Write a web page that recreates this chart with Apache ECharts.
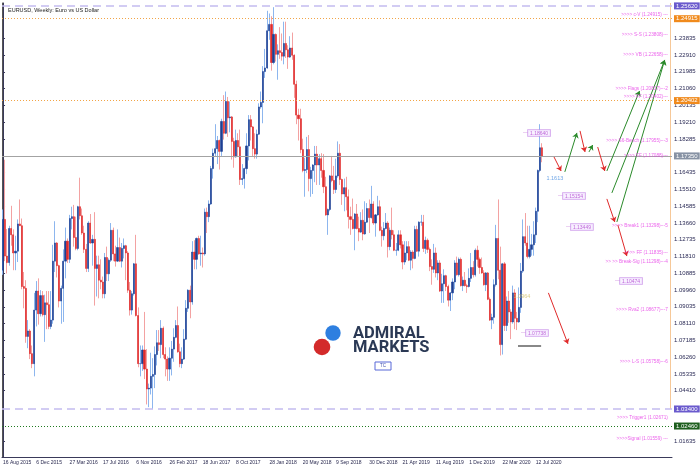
<!DOCTYPE html>
<html><head><meta charset="utf-8">
<script src="https://cdn.jsdelivr.net/npm/echarts@6/dist/echarts.min.js"></script>
<style>html,body{margin:0;padding:0;background:#fff}#c{width:700px;height:469px}</style>
</head><body><div id="c"></div>
<script>
// Weekly EURUSD candles, first week 16 Aug 2015
const open = [
1.1105,1.1385,1.1183,1.1147,1.1335,1.1300,1.1200,1.1210,1.1360,1.1350,1.1015,1.1005,1.0740,1.0770,1.0645,1.0590,1.0885,1.0990,1.0865,1.0965,
1.0860,1.0925,1.0915,1.0795,1.0830,1.1155,1.1255,1.1130,1.0935,1.1005,1.1155,1.1265,1.1165,1.1390,1.1400,1.1285,1.1225,1.1455,1.1405,1.1310,1.1220,1.1115,1.1365,1.1255,1.1275,1.1115,1.1135,1.1050,1.1040,1.0975,1.1175,1.1085,1.1160,1.1325,1.1195,1.1155,1.1230,1.1155,1.1225,1.1240,1.1200,1.0995,1.0885,1.0975,1.1140,1.0855,1.0590,1.0590,1.0665,1.0560,1.0450,1.0455,
1.0520,1.0530,1.0640,1.0705,1.0695,1.0785,1.0640,1.0615,1.0560,1.0620,1.0670,1.0735,1.0800,1.0655,1.0590,1.0615,1.0725,1.0895,1.0995,1.0930,1.1205,1.1165,1.1280,1.1195,1.1200,1.1195,1.1425,1.1400,1.1470,1.1665,1.1750,1.1775,1.1820,1.1760,1.1925,1.1860,1.2035,1.1945,1.1950,1.1815,1.1730,1.1820,1.1785,1.1605,1.1610,1.1665,1.1790,1.1935,1.1895,1.1775,1.1745,1.1855,
1.2005,1.2030,1.2200,1.2220,1.2425,1.2460,1.2250,1.2405,1.2295,1.2315,1.2305,1.2285,1.2355,1.2320,1.2280,1.2330,1.2290,1.2130,1.1960,1.1940,1.1770,1.1655,1.1660,1.1770,1.1610,1.1655,1.1685,1.1745,1.1685,1.1720,1.1655,1.1565,1.1410,1.1440,1.1625,1.1600,1.1550,1.1625,1.1750,1.1605,1.1525,1.1560,1.1510,1.1400,1.1385,1.1335,1.1415,1.1335,1.1315,1.1380,1.1305,1.1370,
1.1445,1.1395,1.1470,1.1365,1.1410,1.1455,1.1325,1.1295,1.1335,1.1365,1.1235,1.1325,1.1300,1.1215,1.1215,1.1300,1.1245,1.1150,1.1200,1.1235,1.1160,1.1205,1.1170,1.1330,1.1210,1.1370,1.1370,1.1225,1.1270,1.1220,1.1125,1.1110,1.1200,1.1090,1.1145,1.0990,1.1030,1.1075,1.1015,1.0940,1.0980,1.1040,1.1145,1.1080,1.1165,1.1020,1.1050,1.1020,1.1015,1.1060,1.1120,1.1080,
1.1215,1.1165,1.1120,1.1090,1.1025,1.1090,1.0945,1.0830,1.0845,1.1025,1.1280,1.1105,1.0695,1.1140,1.0800,1.0935,1.0875,1.0820,1.0980,1.0840,1.0820,1.0900,1.1100,1.1290,1.1255,1.1180,1.1220,1.1245,1.1300,1.1430,1.1655,1.1780];
const high = [
1.1440,1.1714,1.1332,1.1350,1.1460,1.1330,1.1295,1.1385,1.1495,1.1390,1.1095,1.1050,1.0830,1.0780,1.0690,1.0980,1.1045,1.1060,1.0995,1.0990,
1.0970,1.0990,1.0990,1.0990,1.1245,1.1375,1.1260,1.1135,1.1020,1.1220,1.1340,1.1280,1.1410,1.1455,1.1465,1.1400,1.1460,1.1615,1.1445,1.1350,1.1250,1.1375,1.1415,1.1300,1.1425,1.1185,1.1185,1.1165,1.1070,1.1200,1.1235,1.1170,1.1365,1.1340,1.1240,1.1330,1.1285,1.1255,1.1280,1.1245,1.1210,1.1040,1.0990,1.1145,1.1300,1.0900,1.0690,1.0690,1.0875,1.0670,1.0480,1.0650,
1.0620,1.0685,1.0775,1.0775,1.0830,1.0795,1.0680,1.0630,1.0680,1.0715,1.0785,1.0830,1.0905,1.0700,1.0680,1.0780,1.0940,1.1000,1.1020,1.1265,1.1270,1.1285,1.1295,1.1295,1.1230,1.1445,1.1450,1.1490,1.1680,1.1775,1.1910,1.1845,1.1825,1.1940,1.2070,1.2090,1.2060,1.2035,1.1955,1.1835,1.1880,1.1860,1.1880,1.1690,1.1670,1.1860,1.1960,1.1960,1.1900,1.1860,1.1880,1.2025,
1.2090,1.2230,1.2325,1.2535,1.2520,1.2505,1.2555,1.2410,1.2350,1.2445,1.2410,1.2475,1.2475,1.2345,1.2395,1.2415,1.2295,1.2150,1.1995,1.1995,1.1830,1.1725,1.1840,1.1850,1.1675,1.1690,1.1790,1.1790,1.1745,1.1750,1.1745,1.1620,1.1445,1.1630,1.1735,1.1680,1.1720,1.1815,1.1800,1.1610,1.1610,1.1620,1.1550,1.1455,1.1500,1.1420,1.1470,1.1400,1.1425,1.1440,1.1485,1.1475,
1.1495,1.1570,1.1485,1.1415,1.1515,1.1490,1.1345,1.1370,1.1420,1.1375,1.1340,1.1450,1.1325,1.1255,1.1325,1.1325,1.1265,1.1265,1.1265,1.1265,1.1215,1.1215,1.1350,1.1350,1.1375,1.1410,1.1410,1.1290,1.1280,1.1230,1.1165,1.1250,1.1230,1.1160,1.1160,1.1085,1.1110,1.1080,1.1025,1.0985,1.1060,1.1160,1.1180,1.1175,1.1175,1.1070,1.1095,1.1030,1.1115,1.1200,1.1155,1.1225,
1.1240,1.1175,1.1175,1.1105,1.1095,1.1095,1.0955,1.0865,1.1055,1.1355,1.1495,1.1235,1.1145,1.1150,1.0960,1.0990,1.0890,1.1020,1.1000,1.0875,1.1010,1.1145,1.1385,1.1420,1.1350,1.1350,1.1305,1.1375,1.1450,1.1660,1.1910,1.1805];
const low = [
1.1080,1.1155,1.1087,1.1130,1.1240,1.1105,1.1105,1.1150,1.1350,1.1000,1.0895,1.0705,1.0675,1.0615,1.0565,1.0520,1.0795,1.0805,1.0850,1.0850,
1.0710,1.0780,1.0780,1.0780,1.0810,1.1095,1.1065,1.0900,1.0810,1.0820,1.1060,1.1145,1.1145,1.1330,1.1235,1.1215,1.1215,1.1385,1.1300,1.1200,1.1095,1.1095,1.1250,1.1130,1.0910,1.0960,1.0950,1.1000,1.0950,1.0950,1.1045,1.1045,1.1150,1.1155,1.1125,1.1150,1.1150,1.1120,1.1170,1.1050,1.0980,1.0855,1.0860,1.0965,1.0850,1.0570,1.0520,1.0550,1.0505,1.0365,1.0350,1.0420,
1.0340,1.0455,1.0580,1.0660,1.0620,1.0620,1.0520,1.0495,1.0495,1.0525,1.0600,1.0730,1.0650,1.0570,1.0565,1.0610,1.0720,1.0875,1.0840,1.0915,1.1110,1.1110,1.1190,1.1130,1.1120,1.1185,1.1310,1.1370,1.1465,1.1610,1.1730,1.1690,1.1660,1.1735,1.1825,1.1855,1.1840,1.1865,1.1715,1.1670,1.1725,1.1730,1.1575,1.1575,1.1555,1.1635,1.1710,1.1820,1.1730,1.1720,1.1720,1.1850,
1.1995,1.1915,1.2165,1.2215,1.2375,1.2205,1.2240,1.2255,1.2155,1.2270,1.2260,1.2240,1.2275,1.2215,1.2275,1.2265,1.2055,1.1910,1.1820,1.1750,1.1645,1.1510,1.1640,1.1540,1.1510,1.1525,1.1590,1.1575,1.1575,1.1615,1.1530,1.1405,1.1300,1.1430,1.1590,1.1525,1.1530,1.1615,1.1575,1.1465,1.1430,1.1435,1.1335,1.1300,1.1330,1.1215,1.1330,1.1265,1.1310,1.1270,1.1300,1.1365,
1.1310,1.1390,1.1355,1.1290,1.1405,1.1320,1.1235,1.1270,1.1330,1.1175,1.1215,1.1275,1.1210,1.1185,1.1210,1.1225,1.1110,1.1135,1.1160,1.1155,1.1105,1.1115,1.1165,1.1205,1.1180,1.1350,1.1205,1.1195,1.1200,1.1100,1.1025,1.1090,1.1065,1.1050,1.0985,1.0925,1.0925,1.0990,1.0905,1.0880,1.0940,1.1000,1.1075,1.1070,1.1015,1.0990,1.1015,1.0980,1.1010,1.1040,1.1065,1.1070,
1.1125,1.1085,1.1085,1.1020,1.0990,1.0940,1.0825,1.0780,1.0810,1.1015,1.1055,1.0635,1.0640,1.0770,1.0770,1.0815,1.0725,1.0810,1.0780,1.0775,1.0815,1.0870,1.1090,1.1240,1.1170,1.1170,1.1185,1.1185,1.1255,1.1370,1.1645,1.1700];
const close = [
1.1385,1.1183,1.1147,1.1335,1.1300,1.1200,1.1210,1.1360,1.1350,1.1015,1.1005,1.0740,1.0770,1.0645,1.0590,1.0885,1.0990,1.0865,1.0965,1.0860,
1.0925,1.0915,1.0795,1.0830,1.1155,1.1255,1.1130,1.0935,1.1005,1.1155,1.1265,1.1165,1.1390,1.1400,1.1285,1.1225,1.1455,1.1405,1.1310,1.1220,1.1115,1.1365,1.1255,1.1275,1.1115,1.1135,1.1050,1.1040,1.0975,1.1175,1.1085,1.1160,1.1325,1.1195,1.1155,1.1230,1.1155,1.1225,1.1240,1.1200,1.0995,1.0885,1.0975,1.1140,1.0855,1.0590,1.0590,1.0665,1.0560,1.0450,1.0455,1.0520,
1.0530,1.0640,1.0705,1.0695,1.0785,1.0640,1.0615,1.0560,1.0620,1.0670,1.0735,1.0800,1.0655,1.0590,1.0615,1.0725,1.0895,1.0995,1.0930,1.1205,1.1165,1.1280,1.1195,1.1200,1.1195,1.1425,1.1400,1.1470,1.1665,1.1750,1.1775,1.1820,1.1760,1.1925,1.1860,1.2035,1.1945,1.1950,1.1815,1.1730,1.1820,1.1785,1.1605,1.1610,1.1665,1.1790,1.1935,1.1895,1.1775,1.1745,1.1855,1.2005,
1.2030,1.2200,1.2220,1.2425,1.2460,1.2250,1.2405,1.2295,1.2315,1.2305,1.2285,1.2355,1.2320,1.2280,1.2330,1.2290,1.2130,1.1960,1.1940,1.1770,1.1655,1.1660,1.1770,1.1610,1.1655,1.1685,1.1745,1.1685,1.1720,1.1655,1.1565,1.1410,1.1440,1.1625,1.1600,1.1550,1.1625,1.1750,1.1605,1.1525,1.1560,1.1510,1.1400,1.1385,1.1335,1.1415,1.1335,1.1315,1.1380,1.1305,1.1370,1.1445,
1.1395,1.1470,1.1365,1.1410,1.1455,1.1325,1.1295,1.1335,1.1365,1.1235,1.1325,1.1300,1.1215,1.1215,1.1300,1.1245,1.1150,1.1200,1.1235,1.1160,1.1205,1.1170,1.1330,1.1210,1.1370,1.1370,1.1225,1.1270,1.1220,1.1125,1.1110,1.1200,1.1090,1.1145,1.0990,1.1030,1.1075,1.1015,1.0940,1.0980,1.1040,1.1145,1.1080,1.1165,1.1020,1.1050,1.1020,1.1015,1.1060,1.1120,1.1080,1.1215,
1.1165,1.1120,1.1090,1.1025,1.1090,1.0945,1.0830,1.0845,1.1025,1.1280,1.1105,1.0695,1.1140,1.0800,1.0935,1.0875,1.0820,1.0980,1.0840,1.0820,1.0900,1.1100,1.1290,1.1255,1.1180,1.1220,1.1245,1.1300,1.1430,1.1655,1.1780,1.1735];

// right price scale ticks
const yTicks = [1.01635,1.04410,1.05335,1.06260,1.07185,1.08110,1.09035,1.09960,1.10885,1.11810,1.12735,1.13660,1.14585,1.15510,1.16435,1.18285,1.19210,1.20135,1.21060,1.21985,1.22910,1.23835];
// horizontal level lines and their price tags
const hLines = [1.2562,1.24915,1.2040,1.1735,1.0340,1.0246];
const hLineTags = ['1.25620','1.24915','1.20402','1.17350','1.03400','1.02460'];
const hLineKinds = ['purple','orange','orange','gray','purple','green'];
// right-side level texts (anchor price)
const levelText = ['>>>> c-V (1.24915) ---','>>>> S-S (1.23808)---','>>>> VB (1.22658)---','>>>> Flags (1.20817)---2','>>>> FF (1.20402)---','>>>> S6-Bench (1.17955)---3','>>>> FF (1.17088)---','>>>> Break1 (1.13298)---5','>>>> FF (1.11835)---','>> >> Break-Sig (1.11298)---4','>>>> Rva2 (1.08677)---7','>>>> L-S (1.05758)---6','>>>> Trigger1 (1.02671)','>>>>Signal (1.01559) ---'];
const levelAt = [1.25120,1.24017,1.22914,1.21040,1.20599,1.18173,1.17346,1.13487,1.11999,1.11503,1.08856,1.05990,1.02903,1.01746];
const levelSlot = 319.5;
// boxed price tags [slot, price]
const tagText = ['1.18640','1.15154','1.13449','1.10474','1.07738'];
const tagSlot = [249.9,266.7,270.5,294.1,248.9];
const tagAt = [1.18615,1.15142,1.13433,1.10456,1.07590];
// projection arrows [[slot,price],[slot,price]]
const redArrows = [
 [[264.8,1.1729],[268.2,1.1652]],
 [[277.3,1.1873],[279.7,1.1757]],
 [[285.8,1.1784],[289.2,1.1652]],
 [[290.2,1.1498],[294.0,1.1371]],
 [[295.5,1.1354],[299.8,1.1183]],
 [[262.1,1.0980],[271.5,1.0699]]];
const greenArrows = [
 [[270.0,1.1647],[275.8,1.1862]],
 [[281.6,1.1757],[283.4,1.1795]],
 [[290.2,1.1652],[305.9,1.2093]],
 [[292.6,1.1531],[318.0,1.2264]],
 [[295.0,1.1371],[318.0,1.2264]]];
const grayMark = [[247.5,1.0688],[258.6,1.0688]];
const peachLine = [[320.5,1.0340],[320.5,1.2578]];
const noteText = ['1.1613','1.0964'];
const noteAt = [[265.2,1.1613],[249.4,1.0962]];

const N_SLOTS = 322;
const MON = ['Jan','Feb','Mar','Apr','May','Jun','Jul','Aug','Sep','Oct','Nov','Dec'];
const categories = [];
const t0 = Date.UTC(2015,7,16);
for (let i=0;i<N_SLOTS;i++){const d=new Date(t0+i*7*864e5);categories.push(d.getUTCDate()+' '+MON[d.getUTCMonth()]+' '+d.getUTCFullYear());}

const YMIN=1.00753, YMAX=1.2578;
const FONT='Liberation Sans';
const kindStyle = {
 purple:{line:{color:'#c4bcf0',width:1.5,type:[8,5]},bg:'#6a5acd'},
 orange:{line:{color:'#f2a446',width:1,type:[1,2]},bg:'#f08a1c'},
 gray:{line:{color:'#a3a3a3',width:1,type:'solid'},bg:'#8792a4'},
 green:{line:{color:'#1f7a1f',width:1,type:[1,2]},bg:'#1e5e1e'}
};

const chart = echarts.init(document.getElementById('c'));
chart.setOption({
 animation:false,
 backgroundColor:'#fff',
 title:{text:'EURUSD, Weekly: Euro vs US Dollar',left:3,top:2,textStyle:{fontSize:5.5,fontWeight:'normal',color:'#222',fontFamily:FONT}},
 grid:{left:2,right:28,top:3,bottom:12},
 xAxis:[{
  type:'category',data:categories,boundaryGap:true,
  axisLine:{lineStyle:{color:'#3a3a5a'}},
  axisTick:{interval:(i)=>i%16===0&&i<close.length,alignWithLabel:true,length:4,lineStyle:{color:'#3a3a5a'}},
  axisLabel:{interval:(i)=>i%16===0&&i<close.length,align:'left',fontSize:5,color:'#2a2a50',margin:3,fontFamily:FONT},
  splitLine:{show:false}
 },{type:'value',min:-0.5,max:N_SLOTS-0.5,show:false}],
 yAxis:[{
  type:'value',position:'right',min:YMIN,max:YMAX,
  splitLine:{show:false},
  axisLine:{show:true,lineStyle:{color:'#3a3a5a'}},
  axisTick:{show:true,length:2,customValues:yTicks,lineStyle:{color:'#3a3a5a'}},
  axisLabel:{customValues:yTicks,formatter:v=>v.toFixed(5),fontSize:6,color:'#2a2a55',margin:2,fontFamily:FONT}
 },{
  type:'value',position:'left',min:YMIN,max:YMAX,
  axisLine:{show:true,lineStyle:{color:'#555'}},axisTick:{show:false},axisLabel:{show:false},splitLine:{show:false}
 }],
 series:[
  {type:'lines',coordinateSystem:'cartesian2d',xAxisIndex:1,yAxisIndex:0,silent:true,z:1,
   lineStyle:{color:'#f6c898',width:1,opacity:1},data:[{coords:peachLine}]},
  {type:'candlestick',name:'wicks',barWidth:0.8,z:2,
   itemStyle:{color:'#8db6ee',color0:'#f3a2a2',borderColor:'#8db6ee',borderColor0:'#f3a2a2',borderWidth:1},
   data:open.map((o,i)=>[o,close[i],low[i],high[i]])},
  {type:'candlestick',name:'bodies',barWidth:1.6,z:3,
   itemStyle:{color:'#1d3f93',color0:'#e02b2b',borderColor:'#1d3f93',borderColor0:'#e02b2b',borderWidth:0.6},
   data:open.map((o,i)=>[o,close[i],Math.min(o,close[i]),Math.max(o,close[i])]),
   markLine:{silent:true,symbol:'none',animation:false,precision:5,
    data:hLines.map((v,i)=>({yAxis:v,lineStyle:kindStyle[hLineKinds[i]].line,
     label:{show:true,position:'end',distance:2,formatter:hLineTags[i],color:'#fff',fontSize:6,fontFamily:FONT,
      backgroundColor:kindStyle[hLineKinds[i]].bg,padding:[1,2,0,2]}}))}},
  {type:'lines',coordinateSystem:'cartesian2d',xAxisIndex:1,yAxisIndex:0,silent:true,z:4,
   lineStyle:{color:'#888',width:2,opacity:1},data:[{coords:grayMark}]},
  {type:'lines',coordinateSystem:'cartesian2d',xAxisIndex:1,yAxisIndex:0,silent:true,z:5,
   symbol:['none','arrow'],symbolSize:5,lineStyle:{color:'#e02a2a',width:1,opacity:1},
   data:redArrows.map(c=>({coords:c}))},
  {type:'lines',coordinateSystem:'cartesian2d',xAxisIndex:1,yAxisIndex:0,silent:true,z:5,
   symbol:['none','arrow'],symbolSize:5,lineStyle:{color:'#2a8a2a',width:1,opacity:1},
   data:greenArrows.map(c=>({coords:c}))},
  {type:'scatter',xAxisIndex:1,yAxisIndex:0,symbolSize:0,silent:true,z:6,
   data:levelAt.map((p,i)=>({value:[levelSlot,p],label:{formatter:levelText[i]}})),
   label:{show:true,position:'left',distance:0,color:'#e63ce6',fontSize:4.7,fontFamily:FONT}},
  {type:'scatter',xAxisIndex:1,yAxisIndex:0,symbolSize:0,silent:true,z:6,
   data:tagAt.map((p,i)=>({value:[tagSlot[i],p],label:{formatter:'{l|—}{b|'+tagText[i]+'}'}})),
   label:{show:true,position:'right',distance:0,
    rich:{l:{color:'#c070d8',fontSize:5,fontFamily:FONT},
          b:{color:'#b044d0',fontSize:5,fontFamily:FONT,borderColor:'#c890e8',borderWidth:0.8,backgroundColor:'#f6eeff',padding:[1,2,0,2]}}}},
  {type:'scatter',xAxisIndex:1,yAxisIndex:0,symbolSize:0,silent:true,z:6,
   data:noteAt.map((c,i)=>({value:c,label:{formatter:noteText[i],color:i===0?'#4a8ee0':'#d6c46a'}})),
   label:{show:true,position:'inside',fontSize:5.5,fontFamily:FONT}}
 ],
 graphic:[
  {type:'circle',shape:{cx:333,cy:333,r:7.7},style:{fill:'#2e7fe0'},z:10},
  {type:'circle',shape:{cx:322,cy:347,r:8.3},style:{fill:'#d32a2a'},z:10},
  {type:'text',x:353,y:334,style:{text:'ADMIRAL',font:'bold 16.5px Roboto',fill:'#2b3955',textVerticalAlign:'middle'},z:10},
  {type:'text',x:353,y:347.5,style:{text:'MARKETS',font:'bold 16.5px Roboto',fill:'#2b3955',textVerticalAlign:'middle'},z:10},
  {type:'rect',shape:{x:375,y:362,width:16,height:8},style:{fill:'#fff',stroke:'#5868d8',lineWidth:1},z:10},
  {type:'text',x:383,y:366,style:{text:'TC',font:'4.5px Liberation Sans',fill:'#4050b0',textAlign:'center',textVerticalAlign:'middle'},z:11}
 ]
});
</script></body></html>
